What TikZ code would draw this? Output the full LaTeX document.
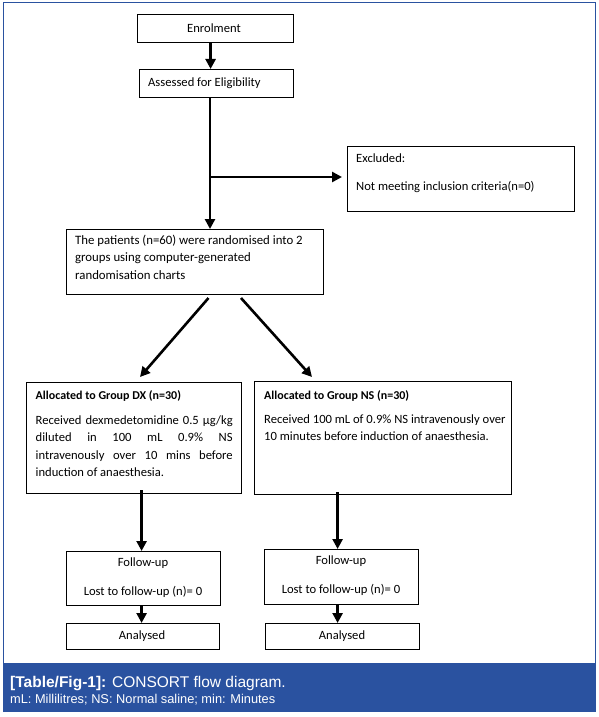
\documentclass[tikz,border=0pt]{standalone}
\usepackage{fontspec}
\setmainfont{Carlito}
\newfontfamily\capfont{Liberation Sans}
\usetikzlibrary{arrows.meta}
\definecolor{bandblue}{HTML}{2A52A0}
\tikzset{
  box/.style={draw=black, line width=1.2pt, fill=white, inner sep=0pt, anchor=north west},
  txt/.style={anchor=west, inner sep=0pt, font=\fontsize{12.6}{17}\selectfont},
  ttl/.style={anchor=west, inner sep=0pt, font=\fontsize{12}{14}\selectfont\bfseries},
  arr/.style={line width=2.6pt, -{Triangle[width=10pt,length=10pt]}},
}
\begin{document}
\begin{tikzpicture}[x=1pt,y=-1pt]
\useasboundingbox (0,0) rectangle (598,717);
% frame and caption band
\draw[bandblue, line width=1pt] (3,712) -- (3,3) -- (595,3) -- (595,712);
\fill[bandblue] (3,663) rectangle (596,712);
\node[anchor=west, inner sep=0pt, text=white, font=\capfont\fontsize{15.5}{17}\selectfont] (cap1) at (10,684) {\textbf{[Table/Fig-1]:} CONSORT flow diagram.};
\node[anchor=west, inner sep=0pt, text=white, font=\capfont\fontsize{12.8}{14}\selectfont] (cap2) at (10,700) {mL: Millilitres; NS: Normal saline; min: Minutes};

% boxes
\node[box, minimum width=156pt, minimum height=28pt] (enrol) at (137,14) {};
\node[txt, anchor=center] (enrolT) at (214,28) {Enrolment};
\node[box, minimum width=154pt, minimum height=28pt] (assess) at (139,69) {};
\node[txt] (assessT) at (148,83) {Assessed for Eligibility};
\node[box, minimum width=227pt, minimum height=65pt] (excl) at (347,146) {};
\node[txt] (exclT1) at (356,158) {Excluded:};
\node[txt] (exclT2) at (356,187) {Not meeting inclusion criteria(n=0)};
\node[box, minimum width=257pt, minimum height=65pt] (rand) at (66,229) {};
\node[txt, anchor=north west] (randT) at (75,234.5) {\parbox[t]{245pt}{\fontsize{12.8}{17.5}\selectfont The patients (n=60) were randomised into 2\\groups using computer-generated\\randomisation charts}};
\node[box, minimum width=215pt, minimum height=111pt] (dx) at (26,382) {};
\node[ttl] (dxT) at (35.5,396) {Allocated to Group DX (n=30)};
\node[txt, anchor=north west] (dxB) at (35.5,415.5) {\parbox[t]{197pt}{\fontsize{12.6}{17.4}\selectfont
\makebox[197pt][s]{Received dexmedetomidine 0.5 µg/kg}\\
\makebox[197pt][s]{diluted in 100 mL 0.9\% NS}\\
\makebox[197pt][s]{intravenously over 10 mins before}\\
induction of anaesthesia.}};
\node[box, minimum width=257pt, minimum height=113pt] (ns) at (254,381) {};
\node[ttl] (nsT) at (264,396) {Allocated to Group NS (n=30)};
\node[txt, anchor=north west] (nsB) at (264,414.5) {\parbox[t]{245pt}{\fontsize{12.6}{17.4}\selectfont Received 100 mL of 0.9\% NS intravenously over\\10 minutes before induction of anaesthesia.}};
\node[box, minimum width=154pt, minimum height=54pt] (fu1) at (66,551) {};
\node[txt, anchor=center] (fu1a) at (143,563) {Follow-up};
\node[txt, anchor=center] (fu1b) at (143,592) {Lost to follow-up (n)= 0};
\node[box, minimum width=154pt, minimum height=55pt] (fu2) at (264,549) {};
\node[txt, anchor=center] (fu2a) at (341,561) {Follow-up};
\node[txt, anchor=center] (fu2b) at (341,590) {Lost to follow-up (n)= 0};
\node[box, minimum width=153pt, minimum height=26pt] (an1) at (66,623) {};
\node[txt, anchor=center] (an1T) at (142,636) {Analysed};
\node[box, minimum width=154pt, minimum height=26pt] (an2) at (265,623) {};
\node[txt, anchor=center] (an2T) at (342,636) {Analysed};

% connectors
\coordinate (br) at (210,177);
\draw[arr] ([xshift=-5pt]enrol.south) -- ([xshift=-6pt]assess.north);
\draw[arr] (assess.south -| br) -- (rand.north -| br);
\draw[arr, shorten >=5pt] (br) -- (excl.west |- br);
\coordinate (d1s) at (208.5,298);
\coordinate (d1e) at (140,377);
\coordinate (d2s) at (241,298);
\coordinate (d2e) at (312,377);
\draw[arr] (d1s) -- (d1e);
\draw[arr] (d2s) -- (d2e);
\draw[arr] ([yshift=4pt]dx.south -| fu1.south) ++(-2pt,0) -- ([xshift=-2pt]fu1.north);
\draw[arr] ([yshift=3pt]ns.south -| fu2.south) ++(-4pt,0) -- ([xshift=-4pt]fu2.north);
\draw[arr] ([xshift=-2pt]fu1.south) -- ([xshift=-1.5pt]an1.north);
\draw[arr] ([xshift=-4pt]fu2.south) -- ([xshift=-5pt]an2.north);
\end{tikzpicture}
\end{document}
